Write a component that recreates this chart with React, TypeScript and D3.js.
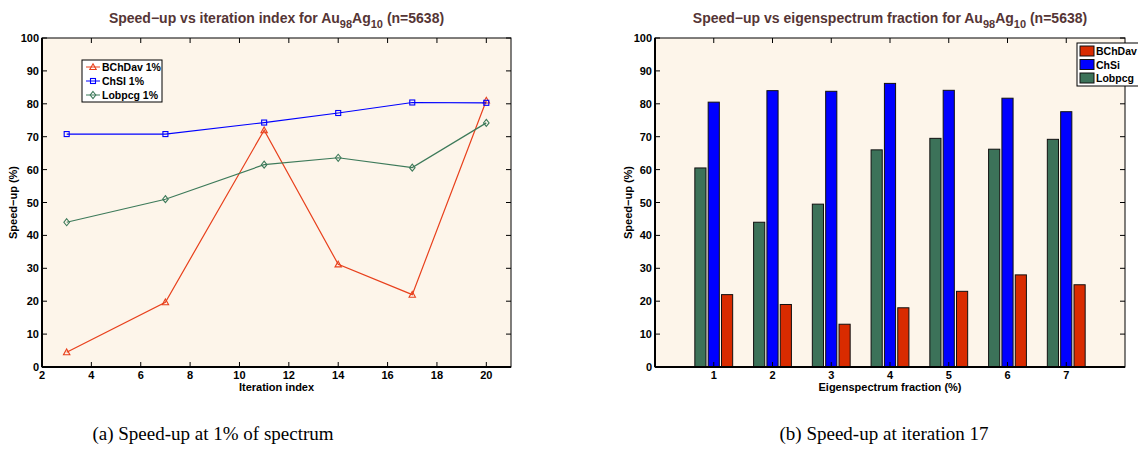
import React from "react";
import * as d3 from "d3";

const iterations = [3, 7, 11, 14, 17, 20];
const bchdavLine = [4.5, 19.7, 72, 31.2, 22, 81];
const chsiLine = [70.8, 70.8, 74.3, 77.2, 80.4, 80.3];
const lobpcgLine = [44, 51, 61.5, 63.6, 60.6, 74.2];

const fractions = [1, 2, 3, 4, 5, 6, 7];
const lobpcgBars = [60.5, 44, 49.5, 66, 69.5, 66.2, 69.2];
const chsiBars = [80.5, 84, 83.8, 86.2, 84.1, 81.7, 77.6];
const bchdavBars = [22, 19, 13, 18, 23, 28, 25];

const yTicks = [0, 10, 20, 30, 40, 50, 60, 70, 80, 90, 100];
const xTicksLeft = [2, 4, 6, 8, 10, 12, 14, 16, 18, 20];

const BG = "#fdf5ea";
const TITLE_C = "#553535";
const RED = "#e8401c";
const RED_BAR = "#d92b00";
const BLUE = "#0000ff";
const GREEN = "#3d7a5a";
const GREEN_BAR = "#3c7259";
const FONT = "Liberation Sans, Arial, sans-serif";

function Title({ x, text }: { x: number; text: string }) {
  return (
    <text x={x} y={23} textAnchor="middle" fontFamily={FONT} fontWeight="bold" fontSize={14} fill={TITLE_C}>
      {text}
      <tspan dy={5} fontSize={11}>98</tspan>
      <tspan dy={-5}>Ag</tspan>
      <tspan dy={5} fontSize={11}>10</tspan>
      <tspan dy={-5}> (n=5638)</tspan>
    </text>
  );
}

function Marker({ type, x, y, color }: { type: string; x: number; y: number; color: string }) {
  if (type === "tri") {
    const s = 3.2;
    return <path d={`M${x},${y - s}L${x + s},${y + s * 0.8}L${x - s},${y + s * 0.8}Z`} fill="none" stroke={color} strokeWidth={1.1} />;
  }
  if (type === "sq") {
    return <rect x={x - 2.5} y={y - 2.5} width={5} height={5} fill="none" stroke={color} strokeWidth={1.1} />;
  }
  return <path d={`M${x},${y - 3.5}L${x + 2.8},${y}L${x},${y + 3.5}L${x - 2.8},${y}Z`} fill="none" stroke={color} strokeWidth={1.1} />;
}

export default function App() {
  const top = 38, bottom = 367;
  const y = d3.scaleLinear().domain([0, 100]).range([bottom, top]);

  // Left chart
  const lx0 = 42, lx1 = 511;
  const xl = d3.scaleLinear().domain([2, 21]).range([lx0, lx1]);
  const series = [
    { name: "BChDav 1%", vals: bchdavLine, color: RED, m: "tri" },
    { name: "ChSI 1%", vals: chsiLine, color: BLUE, m: "sq" },
    { name: "Lobpcg 1%", vals: lobpcgLine, color: GREEN, m: "dia" },
  ];
  const line = d3.line<number>().x((_, i) => xl(iterations[i])).y((v) => y(v));

  // Right chart
  const rx0 = 655, rx1 = 1125;
  const xr = d3.scaleLinear().domain([0, 8]).range([rx0, rx1]);
  const barW = 0.19;
  const barOff = 0.227;
  const barSeries = [
    { name: "Lobpcg", vals: lobpcgBars, color: GREEN_BAR, off: -barOff },
    { name: "ChSi", vals: chsiBars, color: BLUE, off: 0 },
    { name: "BChDav", vals: bchdavBars, color: RED_BAR, off: barOff },
  ];
  const legendBars = [
    { name: "BChDav", color: RED_BAR },
    { name: "ChSi", color: BLUE },
    { name: "Lobpcg", color: GREEN_BAR },
  ];

  const tickLen = 5;

  return (
    <svg width={1138} height={455} style={{ position: "absolute", left: 0, top: 0, background: "#fff" }}>
      {/* LEFT */}
      <Title x={(lx0 + lx1) / 2} text="Speed−up vs iteration index for Au" />
      <rect x={lx0} y={top} width={lx1 - lx0} height={bottom - top} fill={BG} />
      {series.map((s) => (
        <g key={s.name}>
          <path d={line(s.vals) || ""} fill="none" stroke={s.color} strokeWidth={1.2} />
          {s.vals.map((v, i) => (
            <Marker key={i} type={s.m} x={xl(iterations[i])} y={y(v)} color={s.color} />
          ))}
        </g>
      ))}
      {yTicks.map((t) => (
        <g key={t}>
          <line x1={lx0} x2={lx0 + tickLen} y1={y(t)} y2={y(t)} stroke="#000" />
          <line x1={lx1} x2={lx1 - tickLen} y1={y(t)} y2={y(t)} stroke="#000" />
          <text x={lx0 - 3} y={y(t) + 4} textAnchor="end" fontFamily={FONT} fontWeight="bold" fontSize={11}>{t}</text>
        </g>
      ))}
      {xTicksLeft.map((t) => (
        <g key={t}>
          <line x1={xl(t)} x2={xl(t)} y1={bottom} y2={bottom - tickLen} stroke="#000" />
          <line x1={xl(t)} x2={xl(t)} y1={top} y2={top + tickLen} stroke="#000" />
          <text x={xl(t)} y={bottom + 12} textAnchor="middle" fontFamily={FONT} fontWeight="bold" fontSize={11}>{t}</text>
        </g>
      ))}
      <rect x={lx0} y={top} width={lx1 - lx0} height={bottom - top} fill="none" stroke="#000" strokeWidth={1} />
      <line x1={lx0} x2={lx0} y1={top} y2={bottom} stroke="#000" strokeWidth={2} />
      <line x1={lx0} x2={lx1} y1={bottom} y2={bottom} stroke="#000" strokeWidth={2} />
      <text x={(lx0 + lx1) / 2} y={391} textAnchor="middle" fontFamily={FONT} fontWeight="bold" fontSize={11}>Iteration index</text>
      <text transform={`translate(17,${(top + bottom) / 2}) rotate(-90)`} textAnchor="middle" fontFamily={FONT} fontWeight="bold" fontSize={11}>Speed−up (%)</text>
      <rect x={82} y={60} width={80} height={42} fill="#fff" stroke="#000" strokeWidth={1} />
      {series.map((s, i) => (
        <g key={s.name}>
          <line x1={86} x2={100} y1={67 + i * 14} y2={67 + i * 14} stroke={s.color} />
          <Marker type={s.m} x={93} y={67 + i * 14} color={s.color} />
          <text x={102} y={71 + i * 14} fontFamily={FONT} fontWeight="bold" fontSize={10.5}>{s.name}</text>
        </g>
      ))}

      {/* RIGHT */}
      <Title x={(rx0 + rx1) / 2} text="Speed−up vs eigenspectrum fraction for Au" />
      <rect x={rx0} y={top} width={rx1 - rx0} height={bottom - top} fill={BG} />
      {barSeries.map((s) => (
        <g key={s.name}>
          {s.vals.map((v, i) => {
            const cx = fractions[i] + s.off;
            const x0 = xr(cx - barW / 2);
            const x1 = xr(cx + barW / 2);
            return (
              <rect key={i} x={x0} y={y(v)} width={x1 - x0} height={y(0) - y(v)} fill={s.color} stroke="#111" strokeWidth={1} />
            );
          })}
        </g>
      ))}
      {yTicks.map((t) => (
        <g key={t}>
          <line x1={rx0} x2={rx0 + tickLen} y1={y(t)} y2={y(t)} stroke="#000" />
          <line x1={rx1} x2={rx1 - tickLen} y1={y(t)} y2={y(t)} stroke="#000" />
          <text x={rx0 - 3} y={y(t) + 4} textAnchor="end" fontFamily={FONT} fontWeight="bold" fontSize={11}>{t}</text>
        </g>
      ))}
      {fractions.map((t) => (
        <g key={t}>
          <line x1={xr(t)} x2={xr(t)} y1={bottom} y2={bottom - tickLen} stroke="#000" />
          <line x1={xr(t)} x2={xr(t)} y1={top} y2={top + tickLen} stroke="#000" />
          <text x={xr(t)} y={bottom + 12} textAnchor="middle" fontFamily={FONT} fontWeight="bold" fontSize={11}>{t}</text>
        </g>
      ))}
      <rect x={rx0} y={top} width={rx1 - rx0} height={bottom - top} fill="none" stroke="#000" strokeWidth={1} />
      <line x1={rx0} x2={rx0} y1={top} y2={bottom} stroke="#000" strokeWidth={2} />
      <line x1={rx0} x2={rx1} y1={bottom} y2={bottom} stroke="#000" strokeWidth={2} />
      <text x={(rx0 + rx1) / 2} y={391} textAnchor="middle" fontFamily={FONT} fontWeight="bold" fontSize={11}>Eigenspectrum fraction (%)</text>
      <text transform={`translate(632,${(top + bottom) / 2}) rotate(-90)`} textAnchor="middle" fontFamily={FONT} fontWeight="bold" fontSize={11}>Speed−up (%)</text>
      <rect x={1077} y={43} width={64} height={43} fill="#fff" stroke="#000" strokeWidth={1} />
      {legendBars.map((s, i) => (
        <g key={s.name}>
          <rect x={1080} y={46 + i * 13.5} width={14} height={10} fill={s.color} stroke="#111" />
          <text x={1096} y={55 + i * 13.5} fontFamily={FONT} fontWeight="bold" fontSize={10.5}>{s.name}</text>
        </g>
      ))}

      <text x={213} y={440} textAnchor="middle" fontFamily="Liberation Serif, Times New Roman, serif" fontSize={19}>(a)  Speed-up at 1% of spectrum</text>
      <text x={884} y={440} textAnchor="middle" fontFamily="Liberation Serif, Times New Roman, serif" fontSize={19}>(b)  Speed-up at iteration 17</text>
    </svg>
  );
}
